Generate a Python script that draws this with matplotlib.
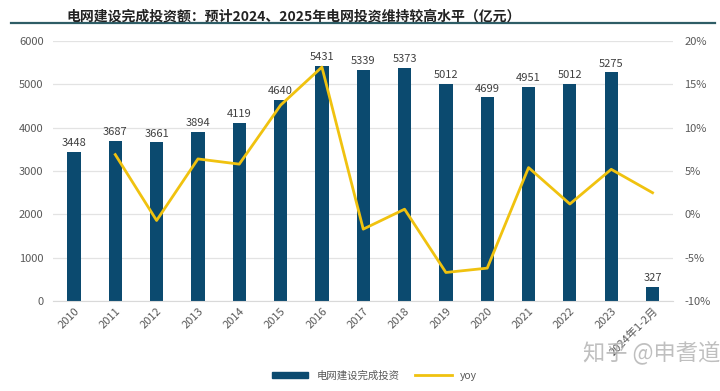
import numpy as np
import matplotlib.pyplot as plt
import matplotlib.lines as mlines
import matplotlib.patches as mpatches

plt.rcParams['font.family'] = ['Noto Sans CJK SC', 'DejaVu Sans']

# 数据
years = ['2010', '2011', '2012', '2013', '2014', '2015', '2016', '2017',
         '2018', '2019', '2020', '2021', '2022', '2023', '2024年1-2月']
invest = [3448, 3687, 3661, 3894, 4119, 4640, 5431, 5339, 5373, 5012,
          4699, 4951, 5012, 5275, 327]
yoy = [None, 6.9, -0.7, 6.4, 5.8, 12.6, 17.0, -1.7, 0.6, -6.7,
       -6.2, 5.4, 1.2, 5.2, 2.5]

bar_color = '#0b4a6f'
line_color = '#f0c20f'
txt_color = '#595959'

fig = plt.figure(figsize=(7.2, 3.91), dpi=100)
ax = fig.add_axes([0.074, 0.23, 0.861, 0.665])
ax2 = ax.twinx()

x = np.arange(len(years))
ax.bar(x, invest, width=0.32, color=bar_color, zorder=2)
for xi, v in zip(x, invest):
    ax.text(xi, v + 90, str(v), ha='center', va='bottom', fontsize=8, color='#404040')

yx = [xi for xi, v in zip(x, yoy) if v is not None]
yv = [v for v in yoy if v is not None]
ax2.plot(yx, yv, color=line_color, lw=2, zorder=3)

ax.set_xlim(-0.5, len(years) - 0.5)
ax.set_ylim(0, 6000)
ax.set_yticks(range(0, 6001, 1000))
ax2.set_ylim(-10, 20)
ax2.set_yticks(range(-10, 21, 5))
ax2.set_yticklabels(['%d%%' % t for t in range(-10, 21, 5)])

ax.grid(axis='y', color='#e3e3e3', lw=0.9, zorder=0)
ax.set_axisbelow(True)
for a in (ax, ax2):
    for s in a.spines.values():
        s.set_visible(False)
    a.tick_params(length=0, labelsize=8, colors=txt_color)
ax.spines['bottom'].set_visible(True)
ax.spines['bottom'].set_color('#d9d9d9')
ax.tick_params(axis='y', pad=7)
ax2.tick_params(axis='y', pad=8)

ax.set_xticks(x)
ax.set_xticklabels(years, rotation=45, ha='right', rotation_mode='anchor',
                   fontsize=8, color=txt_color)

# 标题
fig.text(0.093, 0.975, '电网建设完成投资额：预计2024、2025年电网投资维持较高水平（亿元）',
         fontsize=10, fontweight='bold', color='#222222', va='top', ha='left')
fig.add_artist(mlines.Line2D([0.015, 0.993], [0.94, 0.94], color='#2e5d66', lw=1.6))

# 图例
h1 = mpatches.Patch(color=bar_color, label='电网建设完成投资')
h2 = mlines.Line2D([], [], color=line_color, lw=2, label='yoy')
fig.legend(handles=[h1, h2], loc='center', bbox_to_anchor=(0.52, 0.04), ncol=2,
           frameon=False, fontsize=7.5, handlelength=3.5, handleheight=0.6,
           columnspacing=1.5, labelcolor=txt_color)

# 水印
fig.text(0.905, 0.1, '知乎 @申耆道', fontsize=16, color='#b0b0b0',
         ha='center', va='center', alpha=0.8)

fig.savefig('out.png', dpi=100)
